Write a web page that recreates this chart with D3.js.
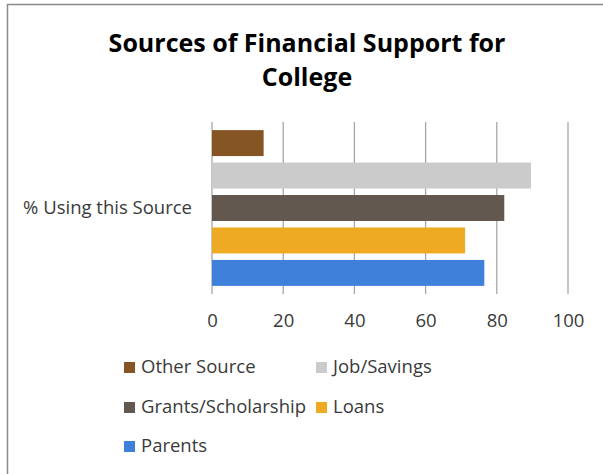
<!DOCTYPE html>
<html lang="en">
<head>
  <meta charset="UTF-8">
  <title>Sources of Financial Support for College</title>
  <script src="https://d3js.org/d3.v7.min.js"></script>
  <style>
    body, html { margin: 0; padding: 0; background: #fff; }
    text { font-family: "Open Sans", sans-serif; }
  </style>
</head>
<body>
  <svg width="603" height="474"></svg>
  <script>
    // data
    const category = "% Using this Source";
    const series = ["Other Source", "Job/Savings", "Grants/Scholarship", "Loans", "Parents"];
    const values = [14.5, 89.6, 82.1, 71.1, 76.5];
    const colors = ["#855624", "#cbcbcb", "#62584f", "#eeaa22", "#3f80db"];
    const ticks = [0, 20, 40, 60, 80, 100];
    const titleLines = ["Sources of Financial Support for", "College"];

    const svg = d3.select("svg");

    // outer frame (only top and left edges visible)
    svg.append("rect")
      .attr("x", 7.5).attr("y", 4.5)
      .attr("width", 620).attr("height", 500)
      .attr("fill", "none")
      .attr("stroke", "#8a8a8a")
      .attr("stroke-width", 1.5);

    svg.append("g").selectAll("text")
      .data(titleLines)
      .join("text")
      .attr("x", 307)
      .attr("y", (d, i) => 52 + i * 34)
      .attr("text-anchor", "middle")
      .attr("font-size", 25)
      .attr("font-weight", "bold")
      .attr("fill", "#000")
      .text(d => d);

    let plot = {left: 212, right: 568, top: 122, bottom: 294};

    let xScale = d3.scaleLinear()
      .domain([0, 100])
      .range([plot.left, plot.right]);

    let yScale = d3.scaleBand()
      .domain(series)
      .range([plot.top, plot.bottom])
      .paddingInner(0.2)
      .paddingOuter(0.25);

    // gridlines
    svg.append("g").selectAll("line")
      .data(ticks)
      .join("line")
      .attr("x1", d => xScale(d)).attr("x2", d => xScale(d))
      .attr("y1", plot.top).attr("y2", plot.bottom)
      .attr("stroke", "#a6a6a6")
      .attr("stroke-width", 1.3);

    let xAxis = d3.axisBottom(xScale).tickValues(ticks).tickSize(0).tickPadding(20);
    let xGroup = svg.append("g")
      .attr("transform", `translate(0,${plot.bottom})`)
      .call(xAxis);
    xGroup.select(".domain").remove();
    xGroup.selectAll("text")
      .attr("font-size", 18.5)
      .attr("fill", "#3a3a3a")
      .style("font-family", "'Open Sans', sans-serif");

    // bars
    svg.append("g").selectAll("rect")
      .data(series)
      .join("rect")
      .attr("x", xScale(0))
      .attr("y", d => yScale(d))
      .attr("height", yScale.bandwidth())
      .attr("width", (d, i) => xScale(values[i]) - xScale(0))
      .attr("fill", (d, i) => colors[i]);

    svg.append("text")
      .attr("x", 192)
      .attr("y", (plot.top + plot.bottom) / 2)
      .attr("dy", "0.35em")
      .attr("text-anchor", "end")
      .attr("font-size", 18.5)
      .attr("fill", "#3a3a3a")
      .text(category);

    // legend
    let legendPos = [[124, 367], [316, 367], [124, 407], [316, 407], [124, 446]];
    let legend = svg.append("g").selectAll("g")
      .data(series)
      .join("g")
      .attr("transform", (d, i) => `translate(${legendPos[i][0]},${legendPos[i][1]})`);
    legend.append("rect")
      .attr("x", 0).attr("y", -5)
      .attr("width", 11).attr("height", 11)
      .attr("fill", (d, i) => colors[i]);
    legend.append("text")
      .attr("x", 17)
      .attr("dy", "0.35em")
      .attr("font-size", 18.5)
      .attr("fill", "#3a3a3a")
      .text(d => d);
  </script>
</body>
</html>
